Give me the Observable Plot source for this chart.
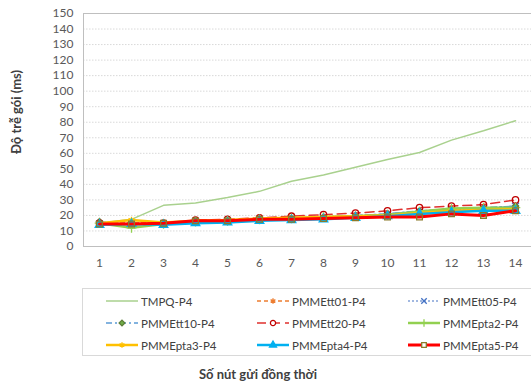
<!DOCTYPE html>
<html>
<head>
<meta charset="utf-8">
<script src="https://cdn.jsdelivr.net/npm/d3@7"></script>
<script src="https://cdn.jsdelivr.net/npm/@observablehq/plot@0.6"></script>
<style>
  body { margin: 0; background: #fff; font-family: Lato, "Open Sans", sans-serif; }
  #wrap { position: relative; width: 531px; height: 385px; overflow: hidden; }
  #chart { position: absolute; left: 0; top: 0; }
  #ytitle {
    position: absolute; left: 16px; top: 112px;
    transform: translate(-50%, -50%) rotate(-90deg);
    font-weight: bold; font-size: 13px; color: #404040; white-space: nowrap;
  }
  #legend {
    position: absolute; left: 82px; top: 288px; width: 452px; height: 68px;
    border: 1px solid #D9D9D9; box-sizing: border-box;
  }
  .item { position: absolute; display: flex; align-items: center; font-size: 11.5px; color: #404040; white-space: nowrap; }
  .item svg { margin-right: 2px; }
  #xtitle {
    position: absolute; left: 258px; top: 374px; transform: translate(-50%, -50%);
    font-weight: bold; font-size: 13px; color: #404040; white-space: nowrap;
  }
</style>
</head>
<body>
<div id="wrap">
  <div id="chart"></div>
  <div id="ytitle">Độ trễ gói (ms)</div>
  <div id="legend"></div>
  <div id="xtitle">Số nút gửi đồng thời</div>
</div>
<script>
// Number of simultaneously sending nodes
const nodes = [1, 2, 3, 4, 5, 6, 7, 8, 9, 10, 11, 12, 13, 14];
const yTicks = [0, 10, 20, 30, 40, 50, 60, 70, 80, 90, 100, 110, 120, 130, 140, 150];

// Packet delay (ms) per protocol variant
const tmpqP4     = [15, 17.5, 26.5, 28, 31.5, 35.5, 42, 46, 51, 56, 60.5, 68.5, 74.5, 81];
const pmmeTt01P4 = [15, 15.5, 15, 16.5, 17, 17.5, 18, 19, 19.5, 20.5, 22, 23, 24, 25];
const pmmeTt05P4 = [14.5, 14, 14.5, 16, 16.5, 17, 18, 18.5, 19.5, 21, 22.5, 23.5, 24.5, 26];
const pmmeTt10P4 = [16, 14, 15, 16.5, 16.5, 17.5, 18, 19, 20, 21, 23, 24, 25, 26];
const pmmeTt20P4 = [15, 14, 15, 17, 17.5, 18.5, 19.5, 20.5, 21.5, 23, 25, 26, 27, 30];
const pmmePta2P4 = [15, 12, 14.5, 16, 16.5, 17.5, 18, 19, 19.5, 20.5, 22.5, 24.5, 25, 25];
const pmmePta3P4 = [15, 17, 15.5, 16.5, 17, 18, 18.5, 19, 19.5, 20, 21.5, 23, 23.5, 24];
const pmmePta4P4 = [14, 14.5, 14, 15, 15.5, 16.5, 17, 17.5, 18.5, 19.5, 21, 22, 23, 23];
const pmmePta5P4 = [14.5, 14.5, 15, 16.5, 16.5, 17.5, 17.5, 18, 18.5, 19, 19, 21, 20, 23];

const seriesNames = ["TMPQ-P4", "PMMEtt01-P4", "PMMEtt05-P4", "PMMEtt10-P4", "PMMEtt20-P4",
                     "PMMEpta2-P4", "PMMEpta3-P4", "PMMEpta4-P4", "PMMEpta5-P4"];
const seriesValues = [tmpqP4, pmmeTt01P4, pmmeTt05P4, pmmeTt10P4, pmmeTt20P4,
                      pmmePta2P4, pmmePta3P4, pmmePta4P4, pmmePta5P4];

// Line and marker styling per series
const styles = {
  "TMPQ-P4":     {stroke: "#A9D18E", width: 1.5, dash: null,      symbol: null},
  "PMMEtt01-P4": {stroke: "#ED7D31", width: 1.5, dash: "4,3",     symbol: "asterisk", r: 3.2, mStroke: "#ED7D31", mFill: "none"},
  "PMMEtt05-P4": {stroke: "#4472C4", width: 1.2, dash: "2,2",     symbol: "times",    r: 3.2, mStroke: "#4472C4", mFill: "none"},
  "PMMEtt10-P4": {stroke: "#5B9BD5", width: 1.5, dash: "6,3,2,3", symbol: "diamond2", r: 2.8, mStroke: "#5E7F3A", mFill: "#70AD47"},
  "PMMEtt20-P4": {stroke: "#E0302E", width: 1.5, dash: "9,5",     symbol: "circle",   r: 3.2, mStroke: "#C00000", mFill: "none"},
  "PMMEpta2-P4": {stroke: "#92D050", width: 2.5, dash: null,      symbol: "plus",     r: 3.2, mStroke: "#92D050", mFill: "none"},
  "PMMEpta3-P4": {stroke: "#FFC000", width: 2.5, dash: null,      symbol: "asterisk", r: 3.2, mStroke: "#FFC000", mFill: "none"},
  "PMMEpta4-P4": {stroke: "#00B0F0", width: 2.5, dash: null,      symbol: "triangle", r: 3.2, mStroke: "#00B0F0", mFill: "#00B0F0"},
  "PMMEpta5-P4": {stroke: "#FF0000", width: 3,   dash: null,      symbol: "square",   r: 3.2, mStroke: "#8B7A2B", mFill: "none"}
};

const rows = seriesNames.flatMap((name, i) =>
  seriesValues[i].map((v, j) => ({series: name, node: nodes[j], delay: v})));

const marks = [
  Plot.ruleY(yTicks.filter(t => t > 0 && t < 150), {stroke: "#D9D9D9", strokeDasharray: "1.5,1.5"}),
  Plot.frame({stroke: "#BFBFBF"})
];
for (const name of seriesNames) {
  const s = styles[name];
  const d = rows.filter(r => r.series === name);
  marks.push(Plot.line(d, {x: "node", y: "delay", stroke: s.stroke, strokeWidth: s.width,
    strokeDasharray: s.dash || undefined, strokeLinejoin: "round"}));
  if (s.symbol) {
    marks.push(Plot.dot(d, {x: "node", y: "delay", symbol: s.symbol, r: s.r,
      stroke: s.mStroke, fill: s.mFill, strokeWidth: 1.3}));
  }
}

const chart = Plot.plot({
  width: 531,
  height: 280,
  marginLeft: 83,
  marginRight: 0,
  marginTop: 13,
  marginBottom: 34,
  style: {fontFamily: "Lato, 'Open Sans', sans-serif", fontSize: "12px", color: "#595959", background: "#fff"},
  x: {type: "point", domain: nodes, padding: 0.5, tickSize: 0, tickPadding: 12, label: null},
  y: {domain: [0, 150], ticks: yTicks, tickSize: 0, tickPadding: 10, label: null},
  marks
});
document.getElementById("chart").appendChild(chart);

// Legend entries, three per row
const symMap = {asterisk: d3.symbolAsterisk, times: d3.symbolTimes, diamond2: d3.symbolDiamond2,
  circle: d3.symbolCircle, plus: d3.symbolPlus, triangle: d3.symbolTriangle, square: d3.symbolSquare};
const legend = document.getElementById("legend");
seriesNames.forEach((name, i) => {
  const s = styles[name];
  const col = i % 3, row = Math.floor(i / 3);
  const item = document.createElement("div");
  item.className = "item";
  item.style.left = (22 + col * 151) + "px";
  item.style.top = (3 + row * 22) + "px";
  item.style.height = "18px";
  const svg = d3.create("svg").attr("width", 34).attr("height", 14);
  svg.append("line").attr("x1", 1).attr("x2", 33).attr("y1", 7).attr("y2", 7)
    .attr("stroke", s.stroke).attr("stroke-width", s.width)
    .attr("stroke-dasharray", s.dash);
  if (s.symbol) {
    svg.append("path").attr("transform", "translate(17,7)")
      .attr("d", d3.symbol(symMap[s.symbol], Math.PI * 2.6 * 2.6)())
      .attr("stroke", s.mStroke).attr("fill", s.mFill === "none" ? "#fff" : s.mFill)
      .attr("stroke-width", 1.3);
  }
  item.appendChild(svg.node());
  const label = document.createElement("span");
  label.textContent = name;
  item.appendChild(label);
  legend.appendChild(item);
});
</script>
</body>
</html>
